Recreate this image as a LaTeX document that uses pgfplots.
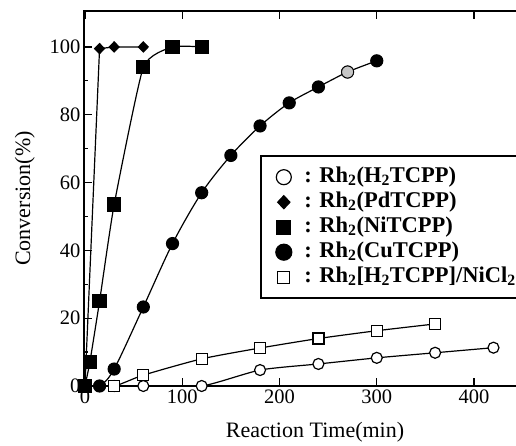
\documentclass[border=0pt]{standalone}
\usepackage{fontspec}
\setmainfont{Liberation Serif}
\usepackage{pgfplots}
\pgfplotsset{compat=1.18}

\begin{document}
\begin{tikzpicture}
\useasboundingbox (0,0) rectangle (516pt,446pt);
\clip (0,0) rectangle (516pt,446pt);
\begin{axis}[
  at={(84pt,60pt)}, anchor=south west,
  scale only axis, width=462pt, height=375pt,
  xmin=-1, xmax=474, ymin=0, ymax=110.6,
  xtick={0,100,200,300,400}, ytick={0,20,40,60,80,100},
  minor y tick num=1,
  tick align=inside,
  major tick length=8pt, minor tick length=4pt,
  axis line style={line width=1.6pt},
  every tick/.style={black, line width=1.3pt},
  ticklabel style={font=\fontsize{20.5}{24}\selectfont},
  /pgf/number format/assume math mode=true,
  xlabel={Reaction Time(min)},
  ylabel={Conversion(\%)},
  label style={font=\fontsize{22}{26}\selectfont},
  xlabel style={at={(axis description cs:0.5,0)}, anchor=base, yshift=-52pt},
  ylabel style={at={(axis description cs:-0.128,0.5)}, anchor=center},
  clip mode=individual,
  legend style={at={(axis description cs:0.381,0.616)}, anchor=north west,
    draw=black, line width=2.4pt, fill=white,
    inner xsep=0pt, inner ysep=8.5pt, row sep=0pt,
    font=\bfseries\fontsize{22.5}{25}\selectfont,
    nodes={text height=16pt, text depth=6pt, inner ysep=1.5pt, inner xsep=5pt}},
  legend cell align=left,
  legend image code/.code={\draw[#1, only marks] plot coordinates {(0pt,0pt)}; \path (-22pt,0pt) (15pt,0pt);},
]
\addlegendimage{black, line width=1.2pt, mark=*, mark size=7.5pt, mark options={fill=white}}
\addlegendentry{: Rh\textsubscript{2}(H\textsubscript{2}TCPP)}
\addlegendimage{black, line width=1.2pt, mark=diamond*, mark size=6.5pt, mark options={xscale=1.25}}
\addlegendentry{: Rh\textsubscript{2}(PdTCPP)}
\addlegendimage{black, line width=1.2pt, mark=square*, mark size=7pt}
\addlegendentry{: Rh\textsubscript{2}(NiTCPP)}
\addlegendimage{black, line width=1.2pt, mark=*, mark size=8pt}
\addlegendentry{: Rh\textsubscript{2}(CuTCPP)}
\addlegendimage{black, line width=1.2pt, mark=square*, mark size=6pt, mark options={fill=white}}
\addlegendentry{: Rh\textsubscript{2}[H\textsubscript{2}TCPP]/NiCl\textsubscript{2}\hspace*{14pt}}

% Rh2(H2TCPP)
\addplot[black, line width=1.2pt, smooth, tension=0.4, mark=*, mark size=5.5pt, mark options={fill=white}, forget plot]
  coordinates {(0,0) (30,0) (60,0) (120,0) (180,4.7) (240,6.5) (300,8.3) (360,9.8) (420,11.3)};
% Rh2[H2TCPP]/NiCl2
\addplot[black, line width=1.2pt, smooth, tension=0.4, mark=square*, mark size=5.5pt, mark options={fill=white}, forget plot]
  coordinates {(0,0) (30,0) (60,3.2) (120,8) (180,11.2) (240,14) (300,16.3) (360,18.3)};
% Rh2(CuTCPP)
\addplot[black, line width=1.2pt, smooth, tension=0.5, mark=*, mark size=6pt, forget plot]
  coordinates {(0,0) (15,0) (30,5) (60,23.3) (90,42) (120,57) (150,68) (180,76.7) (210,83.5) (240,88.2) (270,92.6) (300,95.9)};
\addplot[only marks, mark=*, mark size=6pt, mark options={fill=gray!45, draw=black, line width=0.8pt}, forget plot]
  coordinates {(270,92.6)};
% Rh2(NiTCPP)
\addplot[black, line width=1.2pt, smooth, tension=0.3, mark=square*, mark size=6.5pt, forget plot]
  coordinates {(0,0) (5,7) (15,25) (30,53.5) (60,94) (90,100) (120,100)};
% Rh2(PdTCPP)
\addplot[black, line width=1.2pt, sharp plot, mark=diamond*, mark size=5pt, mark options={xscale=1.3}, forget plot]
  coordinates {(0,0) (15,99.5) (30,100) (60,100)};
\end{axis}
\end{tikzpicture}
\end{document}
